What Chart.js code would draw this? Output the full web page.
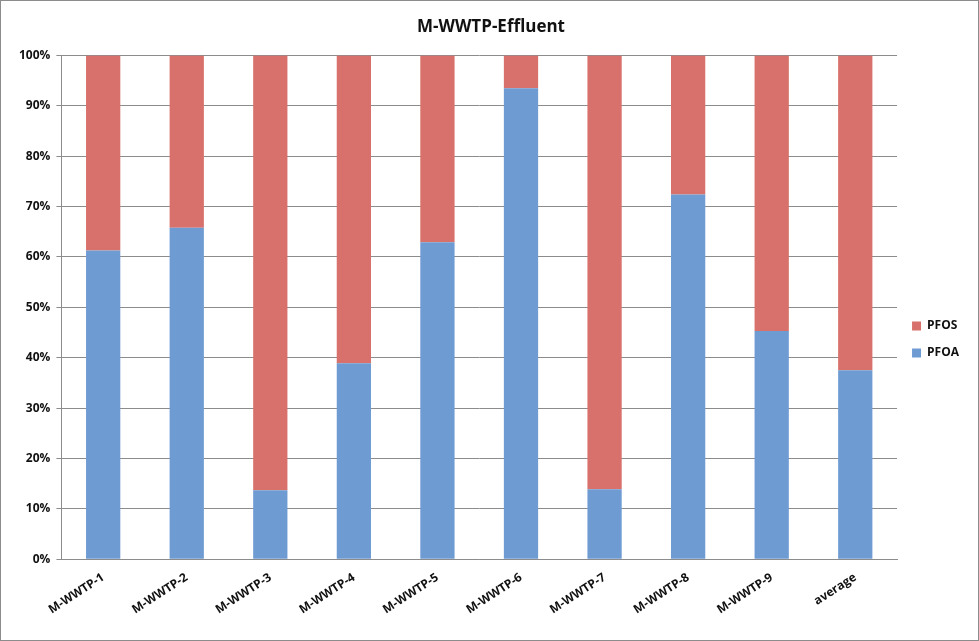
<!DOCTYPE html>
<html lang="en">
<head>
    <meta charset="UTF-8">
    <title>M-WWTP-Effluent</title>
    <script src="https://cdn.jsdelivr.net/npm/chart.js"></script>
    <style>
        body { margin: 0; background: #fff; }
        #wrap { width: 977px; height: 639px; border: 1px solid #8c8c8c; }
    </style>
</head>
<body>
    <div id="wrap"><canvas id="effluentChart" width="977" height="639"></canvas></div>

    <script>
        // Sites on the x axis
        const sites = ['M-WWTP-1', 'M-WWTP-2', 'M-WWTP-3', 'M-WWTP-4', 'M-WWTP-5',
                       'M-WWTP-6', 'M-WWTP-7', 'M-WWTP-8', 'M-WWTP-9', 'average'];
        // Share of PFOA in each sample (%)
        const pfoa = [61.3, 65.8, 13.7, 38.9, 62.9, 93.5, 13.9, 72.4, 45.3, 37.5];
        // Share of PFOS in each sample (%)
        const pfos = [38.7, 34.2, 86.3, 61.1, 37.1, 6.5, 86.1, 27.6, 54.7, 62.5];

        const FONT = 'Open Sans, Liberation Sans, sans-serif';

        const ctx = document.getElementById('effluentChart').getContext('2d');
        new Chart(ctx, {
            type: 'bar',
            data: {
                labels: sites,
                datasets: [
                    { label: 'PFOA', data: pfoa, backgroundColor: '#6f9bd3', categoryPercentage: 1, barPercentage: 0.41 },
                    { label: 'PFOS', data: pfos, backgroundColor: '#d8706b', categoryPercentage: 1, barPercentage: 0.41 }
                ]
            },
            options: {
                responsive: false,
                animation: false,
                layout: { padding: { top: 16, left: 12, right: 9, bottom: 20 } },
                plugins: {
                    title: {
                        display: true,
                        text: 'M-WWTP-Effluent',
                        color: '#111',
                        font: { family: FONT, size: 17, weight: 'bold' },
                        padding: { top: 0, bottom: 18 }
                    },
                    legend: {
                        position: 'right',
                        reverse: true,
                        title: { display: true, text: ' ', font: { size: 10 }, padding: { top: 0, bottom: 30 } },
                        labels: {
                            boxWidth: 9,
                            boxHeight: 9,
                            padding: 15,
                            color: '#111',
                            font: { family: FONT, size: 12, weight: 'bold' }
                        }
                    },
                    tooltip: { enabled: false }
                },
                scales: {
                    x: {
                        stacked: true,
                        grid: { display: false },
                        border: { color: '#8c8c8c' },
                        ticks: {
                            color: '#111',
                            minRotation: 33,
                            maxRotation: 33,
                            font: { family: FONT, size: 12, weight: 'bold' }
                        }
                    },
                    y: {
                        stacked: true,
                        min: 0,
                        max: 100,
                        grid: { color: '#8c8c8c', tickLength: 5 },
                        border: { color: '#8c8c8c' },
                        ticks: {
                            stepSize: 10,
                            color: '#111',
                            padding: 6,
                            font: { family: FONT, size: 12, weight: 'bold' },
                            callback: v => v + '%'
                        }
                    }
                }
            }
        });
    </script>
</body>
</html>
